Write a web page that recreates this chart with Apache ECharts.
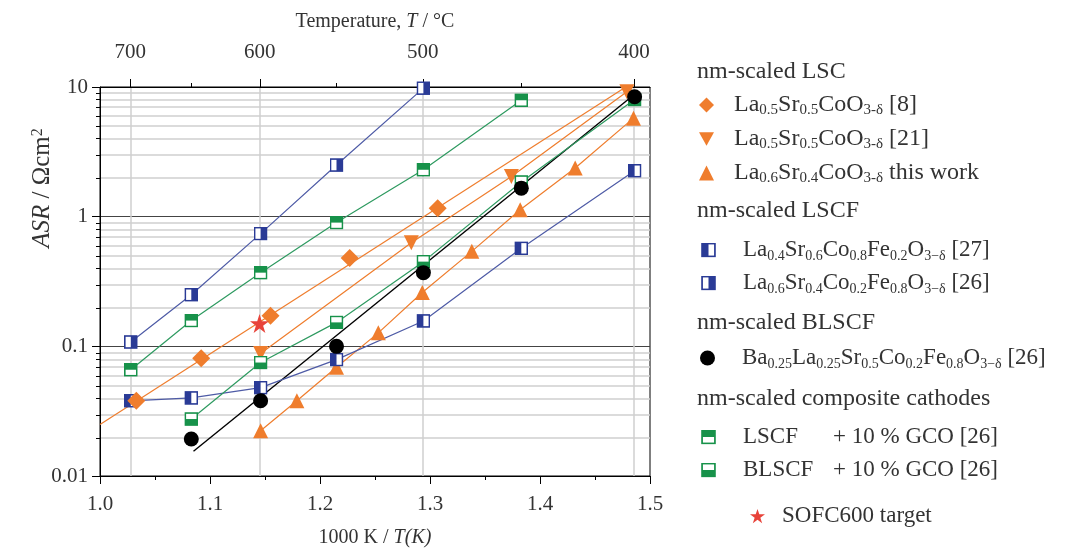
<!DOCTYPE html>
<html lang="en">
<head>
<meta charset="UTF-8">
<title>ASR vs 1000/T</title>
<script src="https://cdn.jsdelivr.net/npm/echarts@6.0.0/dist/echarts.min.js"></script>
<style>html,body{margin:0;padding:0;background:#fff}#main{width:1075px;height:553px}</style>
</head>
<body>
<div id="main"></div>
<script>
// x: 1000 K / T(K), y: ASR in Ohm cm2
var lsc8 = [[1.033,0.038],[1.092,0.081],[1.155,0.172],[1.227,0.48],[1.307,1.16]];
var lsc8Fit = [[1.0,0.025],[1.478,10]];
var lsc21 = [[1.146,0.088],[1.283,0.63],[1.374,2.04],[1.479,9.2]];
var lscThis = [[1.146,0.0223],[1.179,0.038],[1.215,0.069],[1.253,0.127],[1.293,0.26],[1.338,0.54],[1.382,1.13],[1.432,2.37],[1.485,5.75]];
var lscf27 = [[1.028,0.038],[1.083,0.040],[1.146,0.048],[1.215,0.079],[1.294,0.157],[1.383,0.57],[1.486,2.26]];
var lscf26 = [[1.028,0.108],[1.083,0.25],[1.146,0.74],[1.215,2.5],[1.294,9.8]];
var blscf = [[1.083,0.0193],[1.146,0.038],[1.215,0.10],[1.294,0.37],[1.383,1.66],[1.486,8.4]];
var blscfFit = [[1.085,0.0155],[1.486,8.8]];
var lscfGco = [[1.028,0.066],[1.083,0.158],[1.146,0.37],[1.215,0.9],[1.294,2.3],[1.383,7.9]];
var blscfGco = [[1.083,0.0275],[1.146,0.075],[1.215,0.153],[1.294,0.45],[1.383,1.85],[1.486,8.0]];
var target = [[1.145,0.15]];

// top axis (temperature in deg C)
var tempMajor = [700,600,500,400];
var tempMinor = [650,550,450];
// log minor values for grid lines
var logMinor = [0.02,0.03,0.04,0.05,0.06,0.07,0.08,0.09,0.2,0.3,0.4,0.5,0.6,0.7,0.8,0.9,2,3,4,5,6,7,8,9];

var serif = '"Liberation Serif", "DejaVu Serif", serif';
var txt = '#333';
var orange = '#EF7D2D';
var blue = '#2A3B96', blueLine = '#4E5BA6';
var green = '#17924A', greenLine = '#2E9A60';

function invT(t) { return 1000 / (t + 273.15); }

function halfSquare(color, side) {
    var f = {
        left: "x='1' y='1' width='6' height='12'",
        right: "x='7' y='1' width='6' height='12'",
        top: "x='1' y='1' width='12' height='6'",
        bottom: "x='1' y='7' width='12' height='6'"
    }[side];
    var svg = "<svg xmlns='http://www.w3.org/2000/svg' width='14' height='14' viewBox='0 0 14 14'>" +
        "<rect x='1' y='1' width='12' height='12' fill='#fff' stroke='" + color + "' stroke-width='1.6'/>" +
        "<rect " + f + " fill='" + color + "'/></svg>";
    return 'image://data:image/svg+xml;charset=utf-8,' + encodeURIComponent(svg);
}
var sqLeft = halfSquare(blue, 'left'), sqRight = halfSquare(blue, 'right');
var sqTop = halfSquare(green, 'top'), sqBottom = halfSquare(green, 'bottom');
var downTri = 'path://M0,0L10,0L5,9Z';
var star = 'path://M5,0L6.2,3.6L10,3.6L6.9,5.9L8.1,9.5L5,7.3L1.9,9.5L3.1,5.9L0,3.6L3.8,3.6Z';

var names = {
    lsc8: 'La0.5Sr0.5CoO3-δ [8]',
    lsc21: 'La0.5Sr0.5CoO3-δ [21]',
    lscThis: 'La0.6Sr0.4CoO3-δ this work',
    lscf27: 'La0.4Sr0.6Co0.8Fe0.2O3-δ [27]',
    lscf26: 'La0.6Sr0.4Co0.2Fe0.8O3-δ [26]',
    blscf: 'Ba0.25La0.25Sr0.5Co0.2Fe0.8O3-δ [26]',
    lscfGco: 'LSCF + 10 % GCO [26]',
    blscfGco: 'BLSCF + 10 % GCO [26]',
    target: 'SOFC600 target'
};
var rich = {};
rich[names.lsc8] = 'La{s|0.5}Sr{s|0.5}CoO{s|3-δ} [8]';
rich[names.lsc21] = 'La{s|0.5}Sr{s|0.5}CoO{s|3-δ} [21]';
rich[names.lscThis] = 'La{s|0.6}Sr{s|0.4}CoO{s|3-δ} this work';
rich[names.lscf27] = 'La{s|0.4}Sr{s|0.6}Co{s|0.8}Fe{s|0.2}O{s|3−δ} [27]';
rich[names.lscf26] = 'La{s|0.6}Sr{s|0.4}Co{s|0.2}Fe{s|0.8}O{s|3−δ} [26]';
rich[names.blscf] = 'Ba{s|0.25}La{s|0.25}Sr{s|0.5}Co{s|0.2}Fe{s|0.8}O{s|3−δ} [26]';
rich[names.lscfGco] = '{w|LSCF}+ 10 % GCO [26]';
rich[names.blscfGco] = '{w|BLSCF}+ 10 % GCO [26]';

function legendBlock(items, top, left, padLeft, gap, fs, subFs) {
    return {
        orient: 'vertical', left: left, top: top, padding: 0, itemGap: gap,
        itemWidth: 15, itemHeight: 15,
        data: items,
        formatter: function (n) { return rich[n] || n; },
        textStyle: {
            fontFamily: serif, fontSize: fs, color: txt, lineHeight: 26, padding: [0, 0, 0, padLeft],
            rich: {
                s: { fontFamily: serif, fontSize: subFs, color: txt, verticalAlign: 'bottom', lineHeight: 11 },
                w: { fontFamily: serif, fontSize: fs, color: txt, width: 90 }
            }
        }
    };
}

function header(text, y) {
    return { type: 'text', left: 697, top: y - 13, style: { text: text, font: '24px ' + serif, fill: txt } };
}

var chart = echarts.init(document.getElementById('main'));
var option = {
    animation: false,
    grid: [
        { left: 100, right: 425, top: 87, bottom: 76, show: true, borderColor: '#000', borderWidth: 1 },
        { left: 100, right: 425, top: 87, bottom: 76 }
    ],
    xAxis: [
        {
            type: 'value', gridIndex: 0, position: 'bottom', min: 1, max: 1.5, interval: 0.1,
            name: '1000 K / {i|T(K)}', nameLocation: 'middle', nameGap: 52,
            nameTextStyle: { fontFamily: serif, fontSize: 20, color: txt, rich: { i: { fontFamily: serif, fontSize: 20, fontStyle: 'italic', color: txt } } },
            axisLine: { show: true, lineStyle: { color: '#000' } },
            axisTick: { show: true, length: 8, lineStyle: { color: '#000' } },
            minorTick: { show: true, splitNumber: 2, length: 4, lineStyle: { color: '#000' } },
            axisLabel: { fontFamily: serif, fontSize: 21, color: txt, margin: 18, formatter: function (v) { return v.toFixed(1); } },
            splitLine: { show: false }
        },
        {
            type: 'value', gridIndex: 0, position: 'top', min: 1, max: 1.5,
            name: 'Temperature, {i|T} / °C', nameLocation: 'middle', nameGap: 55,
            nameTextStyle: { fontFamily: serif, fontSize: 20, color: txt, rich: { i: { fontFamily: serif, fontSize: 20, fontStyle: 'italic', color: txt } } },
            axisLine: { show: true, lineStyle: { color: '#000' } },
            axisTick: { show: true, length: 8, customValues: tempMajor.map(invT), lineStyle: { color: '#000' } },
            axisLabel: {
                customValues: tempMajor.map(invT), fontFamily: serif, fontSize: 21, color: txt, margin: 24,
                formatter: function (v) { return Math.round(1000 / v - 273.15); }
            },
            splitLine: { show: true, lineStyle: { color: '#cfcfcf', width: 1.5 } }
        },
        {
            type: 'value', gridIndex: 1, position: 'top', min: 1, max: 1.5,
            axisLine: { show: false },
            axisTick: { show: true, length: 4, customValues: tempMinor.map(invT), lineStyle: { color: '#000' } },
            axisLabel: { show: false },
            splitLine: { show: false }
        }
    ],
    yAxis: [
        {
            type: 'log', gridIndex: 0, min: 0.01, max: 10, logBase: 10,
            axisLine: { show: true, lineStyle: { color: '#000' } },
            axisTick: { show: true, length: 8, lineStyle: { color: '#000' } },
            axisLabel: { fontFamily: serif, fontSize: 21, color: txt, margin: 12 },
            splitLine: { show: true, lineStyle: { color: '#444', width: 1.2 } }
        },
        {
            type: 'log', gridIndex: 1, min: 0.01, max: 10, logBase: 10,
            axisLine: { show: false },
            axisTick: { show: true, length: 4, customValues: logMinor, lineStyle: { color: '#000' } },
            axisLabel: { show: false },
            splitLine: { show: true, lineStyle: { color: '#cfcfcf', width: 1.5 } }
        }
    ],
    legend: [
        legendBlock([{ name: names.lsc8, icon: 'diamond' }, { name: names.lsc21, icon: downTri }, { name: names.lscThis, icon: 'triangle' }], 92, 699, 15, 8, 24, 15),
        legendBlock([{ name: names.lscf27, icon: sqLeft }, { name: names.lscf26, icon: sqRight }], 237, 701, 22, 7, 23, 14),
        legendBlock([{ name: names.blscf, icon: 'circle' }], 345, 700, 22, 7, 23, 14),
        legendBlock([{ name: names.lscfGco, icon: sqTop }, { name: names.blscfGco, icon: sqBottom }], 424, 701, 22, 7, 23, 14),
        legendBlock([{ name: names.target, icon: star }], 503, 750, 12, 7, 23, 14)
    ],
    graphic: [
        header('nm-scaled LSC', 73),
        header('nm-scaled LSCF', 212),
        header('nm-scaled BLSCF', 324),
        header('nm-scaled composite cathodes', 400),
        {
            type: 'text', x: 42, y: 188, rotation: Math.PI / 2,
            style: {
                text: '{i|ASR} / Ωcm{p|2}', font: '25px ' + serif, fill: txt, align: 'center', verticalAlign: 'middle',
                rich: {
                    i: { fontStyle: 'italic', fontFamily: serif, fontSize: 25, fill: txt },
                    p: { fontFamily: serif, fontSize: 16, fill: txt, verticalAlign: 'top', lineHeight: 12 }
                }
            }
        }
    ],
    series: [
        { name: 'lsc8 fit', type: 'line', data: lsc8Fit, symbol: 'none', lineStyle: { color: orange, width: 1.2 }, z: 3, silent: true },
        { name: names.lsc8, type: 'scatter', data: lsc8, symbol: 'diamond', symbolSize: 18, itemStyle: { color: orange, opacity: 1 }, z: 6 },
        { name: names.lsc21, type: 'line', data: lsc21, symbol: 'triangle', symbolRotate: 180, symbolSize: 15, itemStyle: { color: orange }, lineStyle: { color: orange, width: 1.2 }, z: 5 },
        { name: names.lscThis, type: 'line', data: lscThis, symbol: 'triangle', symbolSize: 15, itemStyle: { color: orange }, lineStyle: { color: orange, width: 1.2 }, z: 5 },
        { name: names.lscf27, type: 'line', data: lscf27, symbol: sqLeft, symbolSize: 14, lineStyle: { color: blueLine, width: 1.2 }, itemStyle: { color: blue }, z: 5 },
        { name: names.lscf26, type: 'line', data: lscf26, symbol: sqRight, symbolSize: 14, lineStyle: { color: blueLine, width: 1.2 }, itemStyle: { color: blue }, z: 5 },
        { name: names.lscfGco, type: 'line', data: lscfGco, symbol: sqTop, symbolSize: 14, lineStyle: { color: greenLine, width: 1.2 }, itemStyle: { color: green }, z: 5 },
        { name: names.blscfGco, type: 'line', data: blscfGco, symbol: sqBottom, symbolSize: 14, lineStyle: { color: greenLine, width: 1.2 }, itemStyle: { color: green }, z: 5 },
        { name: 'blscf fit', type: 'line', data: blscfFit, symbol: 'none', lineStyle: { color: '#000', width: 1.4 }, z: 4, silent: true },
        { name: names.blscf, type: 'scatter', data: blscf, symbol: 'circle', symbolSize: 15, itemStyle: { color: '#000', opacity: 1 }, z: 7 },
        { name: names.target, type: 'scatter', data: target, symbol: star, symbolSize: 19, itemStyle: { color: '#E8433A', opacity: 1 }, z: 8 }
    ]
};
chart.setOption(option);
</script>
</body>
</html>
